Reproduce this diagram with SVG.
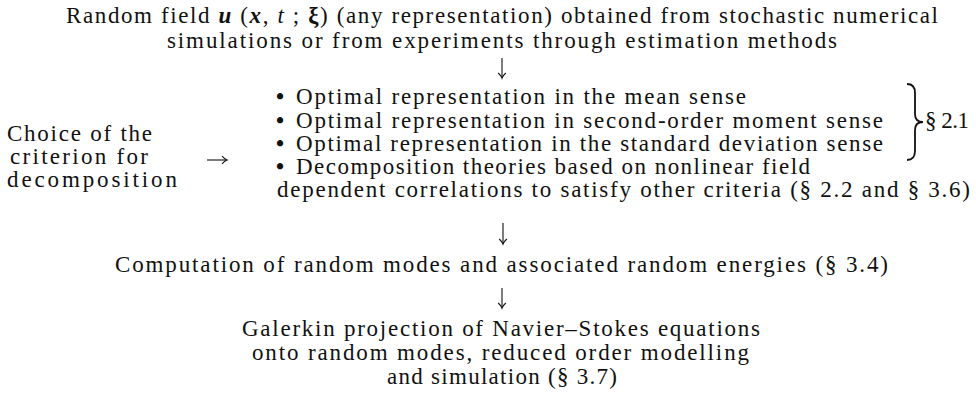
<svg xmlns="http://www.w3.org/2000/svg" width="976" height="395" viewBox="0 0 976 395">
<style>
text{font-family:"Liberation Serif","Times New Roman",serif;font-size:23px;fill:#111}
.bi{font-weight:bold;font-style:italic}
.it{font-style:italic}
.b{font-weight:bold}
.bul{font-weight:bold}
.conn{stroke:#111;stroke-width:1.1;fill:none}
</style>
<defs>
<marker id="ah" viewBox="-6 -6 12 12" markerWidth="12" markerHeight="12" refX="0" refY="0" orient="auto" markerUnits="userSpaceOnUse">
<path d="M-5,-3.8 Q-2,-0.6 0,0 Q-2,0.6 -5,3.8" stroke="#111" stroke-width="1.1" fill="none"/>
</marker>
</defs>
<rect width="976" height="395" fill="#fff"/>
<g id="source">
<text x="66" y="23" textLength="872" lengthAdjust="spacing">Random field <tspan class="bi">u</tspan> (<tspan class="bi">x</tspan>, <tspan class="it">t</tspan> ; <tspan class="b">ξ</tspan>) (any representation) obtained from stochastic numerical</text>
<text x="167" y="48" textLength="670" lengthAdjust="spacing">simulations or from experiments through estimation methods</text>
</g>
<g id="criterion">
<text x="7" y="141" textLength="145" lengthAdjust="spacing">Choice of the</text>
<text x="10" y="164" textLength="138" lengthAdjust="spacing">criterion for</text>
<text x="7" y="187" textLength="170" lengthAdjust="spacing">decomposition</text>
</g>
<g id="options">
<text class="bul" x="276" y="104">•</text>
<text x="296" y="104" textLength="450" lengthAdjust="spacing">Optimal representation in the mean sense</text>
<text class="bul" x="276" y="127.5">•</text>
<text x="296" y="127.5" textLength="587" lengthAdjust="spacing">Optimal representation in second-order moment sense</text>
<text class="bul" x="276" y="151">•</text>
<text x="296" y="151" textLength="587" lengthAdjust="spacing">Optimal representation in the standard deviation sense</text>
<text class="bul" x="276" y="174">•</text>
<text x="296" y="174" textLength="514" lengthAdjust="spacing">Decomposition theories based on nonlinear field</text>
<text x="277" y="197" textLength="693" lengthAdjust="spacing">dependent correlations to satisfy other criteria (§ 2.2 and § 3.6)</text>
</g>
<g id="section21">
<path d="M907,84 Q915,84 915,93 L915,114 Q915,122 923,122 Q915,122 915,130 L915,151 Q915,160 907,160" stroke="#111" stroke-width="1.8" fill="none"/>
<text x="925" y="128" textLength="44" lengthAdjust="spacing">§ 2.1</text>
</g>
<g id="computation">
<text x="115" y="272" textLength="773" lengthAdjust="spacing">Computation of random modes and associated random energies (§ 3.4)</text>
</g>
<g id="galerkin">
<text x="242" y="336" textLength="518" lengthAdjust="spacing">Galerkin projection of Navier–Stokes equations</text>
<text x="252" y="360" textLength="497" lengthAdjust="spacing">onto random modes, reduced order modelling</text>
<text x="387" y="384" textLength="230" lengthAdjust="spacing">and simulation (§ 3.7)</text>
</g>
<g id="connectors">
<path class="conn" d="M502,58 L502,78" marker-end="url(#ah)"/>
<path class="conn" d="M207,160 L227,160" marker-end="url(#ah)"/>
<path class="conn" d="M503,223 L503,244" marker-end="url(#ah)"/>
<path class="conn" d="M502,288 L502,308" marker-end="url(#ah)"/>
</g>
</svg>
